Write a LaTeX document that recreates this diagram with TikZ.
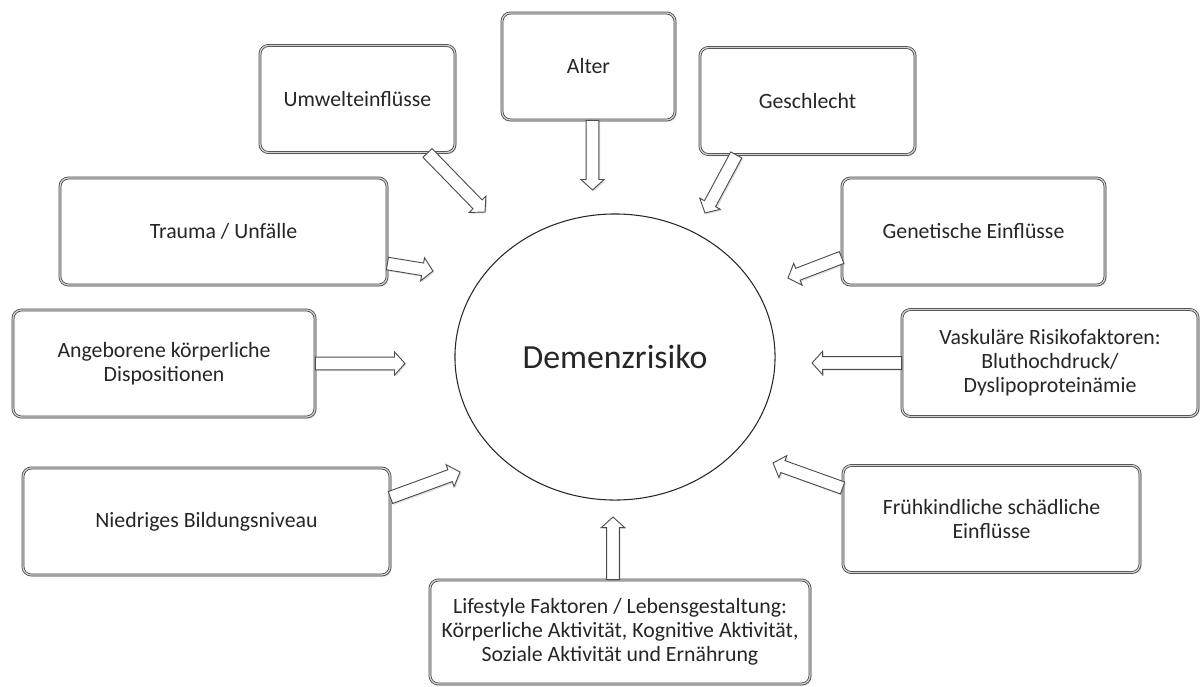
\documentclass[tikz,border=0pt]{standalone}
\usepackage{fontspec}
\setmainfont{Carlito}
\usetikzlibrary{calc,shapes.geometric,shadows}
\tikzset{box/.style={draw=gray!55!black, double=gray!35, double distance=0.9pt, line width=0.55pt,
  rounded corners=6pt, fill=white, align=center, minimum height=2.675cm, text=black!85,
  font=\fontsize{15.5}{17}\selectfont,
  drop shadow={opacity=0.3, shadow xshift=1.2pt, shadow yshift=-1.2pt}}}
\tikzset{fatarrow/.style={draw=gray!60!black, line width=0.65pt, fill=white,
  drop shadow={opacity=0.25, shadow xshift=1pt, shadow yshift=-1pt},
  to path={let \p1=(\tikztostart), \p2=(\tikztotarget),
    \n1={atan2(\y2-\y1,\x2-\x1)}, \n2={veclen(\x2-\x1,\y2-\y1)-7.5pt} in
    ($(\p1)+(\n1+90:4.5pt)$) -- ++(\n1:\n2) -- ++(\n1+90:3.8pt) -- (\p2)
    -- ($(\p1)+(\n1:\n2)+(\n1-90:8.3pt)$) -- ++(\n1+90:3.8pt)
    -- ($(\p1)+(\n1-90:4.5pt)$) -- cycle}}}

\begin{document}
\begin{tikzpicture}[x=0.025cm, y=-0.025cm]
  \useasboundingbox (0,0) rectangle (1201,686);

  % centre
  \node[ellipse, draw=gray!30!black, line width=0.75pt, minimum width=8cm, minimum height=7.15cm,
    text=black!85, font=\fontsize{24}{28}\selectfont] (risk) at (615,357) {Demenzrisiko};

  % factors
  \node[box, minimum width=4.875cm] (umw) at (357.5,99) {Umwelteinflüsse};
  \node[box, minimum width=4.325cm] (alter) at (588.5,66.5) {Alter};
  \node[box, minimum width=5.375cm] (geschl) at (807.5,101) {Geschlecht};
  \node[box, minimum width=8.175cm] (trauma) at (223.5,231.5) {Trauma / Unfälle};
  \node[box, minimum width=6.575cm] (genet) at (973.5,231.5) {Genetische Einflüsse};
  \node[box, minimum width=7.55cm] (angeb) at (164,363.5) {Angeborene körperliche\\Dispositionen};
  \node[box, minimum width=7.4cm] (vask) at (1050,363) {Vaskuläre Risikofaktoren:\\Bluthochdruck/\\Dyslipoproteinämie};
  \node[box, minimum width=9.175cm] (niedr) at (206.5,521.5) {Niedriges Bildungsniveau};
  \node[box, minimum width=7.425cm] (frueh) at (991.5,519) {Frühkindliche schädliche\\Einflüsse};
  \node[box, minimum width=9.5cm, minimum height=2.6cm] (life) at (620,632)
    {Lifestyle Faktoren / Lebensgestaltung:\\Körperliche Aktivität, Kognitive Aktivität,\\Soziale Aktivität und Ernährung};

  % arrow tips
  \coordinate (t1) at (485,212);
  \coordinate (t2) at (592.5,190);
  \coordinate (t3) at (705,213);
  \coordinate (t4) at (433,271);
  \coordinate (t5) at (788,278);
  \coordinate (t6) at (405,363.5);
  \coordinate (t7) at (812,363);
  \coordinate (t8) at (460,472);
  \coordinate (t9) at (773,463);
  \coordinate (t10) at (613,517);

  \draw[fatarrow] ([xshift=1.75cm]umw.south) to (t1);
  \draw[fatarrow] ([xshift=0.1cm]alter.south) to (t2);
  \draw[fatarrow] ([xshift=-1.78cm]geschl.south) to (t3);
  \draw[fatarrow] ([yshift=-0.8cm]trauma.east) to (t4);
  \draw[fatarrow] ([yshift=-0.65cm]genet.west) to (t5);
  \draw[fatarrow] (angeb.east) to (t6);
  \draw[fatarrow] (vask.west) to (t7);
  \draw[fatarrow] ([yshift=0.6cm]niedr.east) to (t8);
  \draw[fatarrow] ([yshift=0.775cm]frueh.west) to (t9);
  \draw[fatarrow] ([xshift=-0.175cm]life.north) to (t10);
\end{tikzpicture}
\end{document}
